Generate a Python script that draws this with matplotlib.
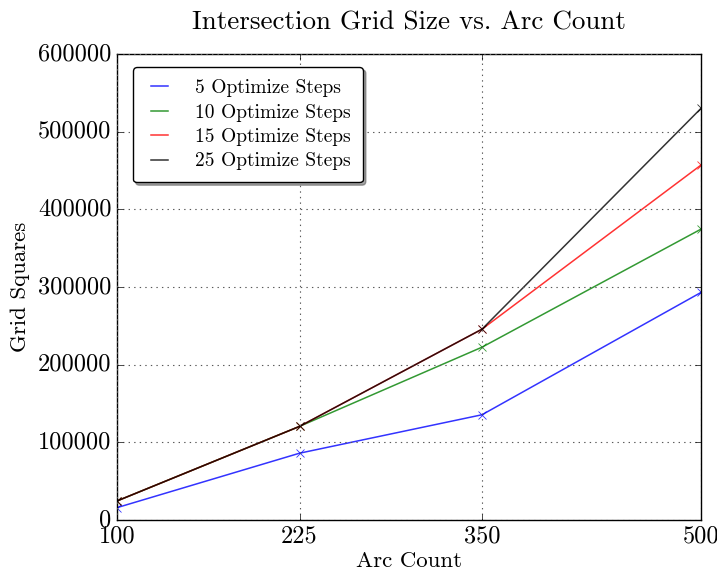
import matplotlib
matplotlib.use("Agg")
import matplotlib.pyplot as plt
from matplotlib.lines import Line2D

plt.style.use("classic")
plt.rcParams["font.family"] = "serif"
plt.rcParams["font.serif"] = ["cmr10"]
plt.rcParams["mathtext.fontset"] = "cm"
plt.rcParams["axes.formatter.use_mathtext"] = True

arc_counts = [100, 225, 350, 500]
steps_5 = [15900, 86000, 135500, 293000]
steps_10 = [24500, 120500, 222500, 374500]
steps_15 = [24500, 120500, 245700, 457000]
steps_25 = [24500, 120500, 245700, 530000]
series_labels = ["5 Optimize Steps", "10 Optimize Steps", "15 Optimize Steps", "25 Optimize Steps"]
series_colors = ["blue", "green", "red", "black"]

fig = plt.figure(figsize=(7.17, 5.75), dpi=100, facecolor="white")
ax = fig.add_axes([117 / 717, 1 - 520 / 575, (701 - 117) / 717, (520 - 54) / 575])

handles = []
for ys, lab, col in zip([steps_5, steps_10, steps_15, steps_25], series_labels, series_colors):
    ax.plot(arc_counts, ys, color=col, marker="x", markersize=6, markeredgewidth=0.6,
            lw=1.1, alpha=0.8)
    handles.append(Line2D([], [], color=col, lw=1.1, alpha=0.8, label=lab))

ax.set_xlim(100, 500)
ax.set_ylim(0, 600000)
ax.set_xticks(arc_counts)
ax.set_xticklabels([str(v) for v in arc_counts])
ax.set_yticks(range(0, 600001, 100000))
ax.set_yticklabels([str(v) for v in range(0, 600001, 100000)])
ax.tick_params(labelsize=17.5, direction="in")
ax.grid(True, linestyle=":", color="0.35", lw=0.8)

ax.set_title("Intersection Grid Size vs. Arc Count", fontsize=19.5, pad=18)
ax.set_xlabel("Arc Count", fontsize=16.5, labelpad=3)
ax.set_ylabel("Grid Squares", fontsize=16.5, labelpad=6)

leg = ax.legend(handles=handles, loc="upper left", fontsize=14, shadow=True, fancybox=True,
                handlelength=1.5, handletextpad=1.1, borderpad=0.62, labelspacing=0.33,
                borderaxespad=0.0, bbox_to_anchor=(0.027, 0.972))
leg.get_frame().set_linewidth(1.0)

fig.savefig("out.png", dpi=100, facecolor="white")
